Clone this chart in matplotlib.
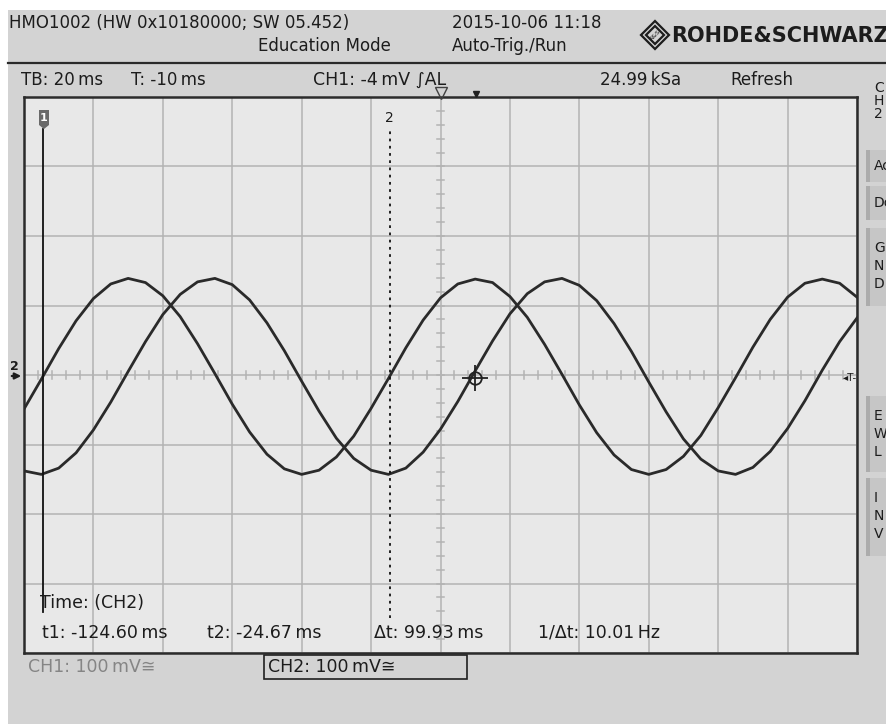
import numpy as np
import matplotlib.pyplot as plt
from matplotlib.patches import Rectangle, Polygon

# sample times (ms) across the 12 divisions, 20 ms/div, centre at -10 ms
t_ms = [-130, -125, -120, -115, -110, -105, -100, -95, -90, -85,
        -80, -75, -70, -65, -60, -55, -50, -45, -40, -35,
        -30, -25, -20, -15, -10, -5, 0, 5, 10, 15,
        20, 25, 30, 35, 40, 45, 50, 55, 60, 65,
        70, 75, 80, 85, 90, 95, 100, 105, 110]

# CH2 trace (mV)
ch2_mv = [-49, -6, 38, 78, 110, 131, 139, 133, 114, 84,
          45, 2, -42, -82, -114, -135, -143, -137, -118, -88,
          -48, -5, 39, 79, 111, 131, 138, 133, 113, 83,
          44, 1, -43, -83, -115, -136, -143, -136, -117, -87,
          -47, -4, 40, 80, 112, 132, 138, 132, 112]

# CH1 trace (mV)
ch1_mv = [-138, -143, -134, -112, -79, -39, 5, 48, 87, 116,
          134, 139, 130, 108, 75, 35, -9, -52, -91, -120,
          -137, -143, -134, -111, -78, -38, 6, 49, 88, 117,
          134, 139, 129, 107, 74, 34, -10, -53, -92, -121,
          -138, -143, -133, -110, -77, -37, 7, 48, 82]

# cursor / trigger settings
t1, t2 = -124.60, -24.67
trig_t, trig_mv = 0.0, -4.0
t_center = -10.0
x_range = (-130, 110)
y_range = (-400, 400)

header1 = "HMO1002 (HW 0x10180000; SW 05.452)"
header2 = "Education Mode"
date_txt = "2015-10-06 11:18"
mode_txt = "Auto-Trig./Run"
readout = ["t1: -124.60\u2009ms", "t2: -24.67\u2009ms", "\u0394t: 99.93\u2009ms", "1/\u0394t: 10.01\u2009Hz"]
readout_px = [42, 207, 374, 538]

W, H = 886, 724
BG = '#d3d3d3'
SCREEN = '#e8e8e8'
GRID = '#b3b3b3'
INK = '#1c1c1c'

fig = plt.figure(figsize=(W / 100, H / 100), dpi=100)
fig.patch.set_facecolor('white')

bg = fig.add_axes([0, 0, 1, 1], zorder=0)
bg.set_xlim(0, W); bg.set_ylim(H, 0); bg.axis('off')
bg.add_patch(Rectangle((8, 10), W - 8, H - 10, color=BG, lw=0))
bg.plot([8, W], [63, 63], color='#2a2a2a', lw=1.6)

# right hand menu column (cut off at the edge)
for y0, y1 in [(150, 182), (186, 220), (228, 306), (396, 472), (478, 556)]:
    bg.add_patch(Rectangle((868, y0), 20, y1 - y0, color='#c6c6c6', lw=0))
    bg.add_patch(Rectangle((866, y0), 4, y1 - y0, color='#acacac', lw=0))
side = [("C", 88), ("H", 101), ("2", 114), ("Ac", 166), ("Dc", 203),
        ("G", 248), ("N", 266), ("D", 284), ("E", 416), ("W", 434),
        ("L", 452), ("I", 498), ("N", 516), ("V", 534)]
for ch, yy in side:
    bg.text(874, yy, ch, fontsize=10, color=INK, va='center', ha='left', clip_on=True)

fs = 12
bg.text(9, 23, header1, fontsize=fs, color=INK, va='center')
bg.text(258, 46, header2, fontsize=fs, color=INK, va='center')
bg.text(452, 23, date_txt, fontsize=fs, color=INK, va='center')
bg.text(452, 46, mode_txt, fontsize=fs, color=INK, va='center')

# logo
cx, cy = 655, 35
for r in (14, 9):
    bg.add_patch(Polygon([(cx, cy - r), (cx + r, cy), (cx, cy + r), (cx - r, cy)],
                         closed=True, fill=False, ec=INK, lw=1.6))
bg.text(cx, cy, "R&S", fontsize=4.5, ha='center', va='center', color=INK, rotation=45)
bg.text(671, 36, "ROHDE&SCHWARZ", fontsize=15, fontweight='bold', color=INK, va='center',
        clip_on=True)

bg.text(21, 80, "TB: 20\u2009ms", fontsize=fs, color=INK, va='center')
bg.text(131, 80, "T: -10\u2009ms", fontsize=fs, color=INK, va='center')
bg.text(313, 80, "CH1: -4\u2009mV \u222bAL", fontsize=12.5, color=INK, va='center')
bg.text(600, 80, "24.99\u2009kSa", fontsize=fs, color=INK, va='center')
bg.text(793, 80, "Refresh", fontsize=fs, color=INK, va='center', ha='right')

bg.text(28, 667, "CH1: 100\u2009mV\u2245", fontsize=12.5, color='#858585', va='center')
bg.add_patch(Rectangle((264, 655), 203, 24, fill=False, ec='#202020', lw=1.2))
bg.text(268, 667, "CH2: 100\u2009mV\u2245", fontsize=12.5, color=INK, va='center')

# the screen
ax = fig.add_axes([24 / W, (H - 653) / H, 833 / W, 556 / H], zorder=1)
ax.set_facecolor(SCREEN)
ax.set_xlim(*x_range)
ax.set_ylim(*y_range)
ax.set_xticks(np.arange(x_range[0], x_range[1] + 1, 20))
ax.set_yticks(np.arange(y_range[0], y_range[1] + 1, 100))
ax.grid(True, color=GRID, lw=1.1)
ax.tick_params(length=0, labelbottom=False, labelleft=False)
for s in ax.spines.values():
    s.set_color('#2b2b2b'); s.set_linewidth(1.8)

# minor ticks on the centre cross
ms_per_px = 20 / 69.4
mv_per_px = 100 / 69.4
for tx in np.arange(x_range[0], x_range[1] + 0.1, 4):
    ax.plot([tx, tx], [-3.5 * mv_per_px, 3.5 * mv_per_px], color=GRID, lw=1.1)
for vy in np.arange(y_range[0], y_range[1] + 0.1, 20):
    ax.plot([t_center - 3.5 * ms_per_px, t_center + 3.5 * ms_per_px], [vy, vy], color=GRID, lw=1.1)

ax.plot(t_ms, ch1_mv, color='#2a2a2a', lw=2.0, solid_joinstyle='round')
ax.plot(t_ms, ch2_mv, color='#2a2a2a', lw=2.0, solid_joinstyle='round')

# cursors
ax.axvline(t1, ymin=(653 - 612) / 556, ymax=(653 - 129) / 556, color='#101010', lw=1.3)
ax.axvline(t2, ymin=(653 - 618) / 556, ymax=(653 - 128) / 556, color='#101010', lw=1.3,
           linestyle=(0, (1.5, 2.5)))
ax.text(t2, 400 - 21 * mv_per_px, "2", fontsize=10, ha='center', va='center', color=INK)

# trigger point crosshair
ax.plot([trig_t], [trig_mv], marker='o', ms=9, mfc='none', mec='#202020', mew=1.3)
ax.plot([trig_t], [trig_mv], marker='+', ms=19, mec='#202020', mew=1.3)

def px_to_t(px):
    return x_range[0] + (px - 24) * ms_per_px

ax.text(px_to_t(40), -400 + 50 * mv_per_px, "Time: (CH2)", fontsize=12.5, color=INK, va='center')
for xx, txt in zip(readout_px, readout):
    ax.text(px_to_t(xx), -400 + 20 * mv_per_px, txt, fontsize=12.5, color=INK, va='center')

fg = fig.add_axes([0, 0, 1, 1], zorder=2)
fg.set_xlim(0, W); fg.set_ylim(H, 0); fg.axis('off')
# cursor 1 flag
fg.add_patch(Polygon([(39, 110), (49, 110), (49, 125), (44, 129), (39, 125)],
                     closed=True, color='#6a6a6a', lw=0))
fg.text(44, 118, "1", fontsize=8, color='white', ha='center', va='center', fontweight='bold')
# horizontal position and trigger time markers
fg.plot([441], [93], marker='v', ms=8, mfc='none', mec='#404040', mew=1)
fg.plot([476], [94], marker='v', ms=4, color='#202020')
# CH2 ground marker and trigger level marker
fg.text(14, 367, "2", fontsize=9, fontweight='bold', color=INK, ha='center', va='center')
fg.annotate("", xy=(24, 376), xytext=(9, 376),
            arrowprops=dict(arrowstyle='-|>', color=INK, lw=1.6, mutation_scale=9))
fg.text(850, 378, "\u25c2T-", fontsize=7.5, color=INK, ha='center', va='center')

fig.savefig("out.png", dpi=100)
